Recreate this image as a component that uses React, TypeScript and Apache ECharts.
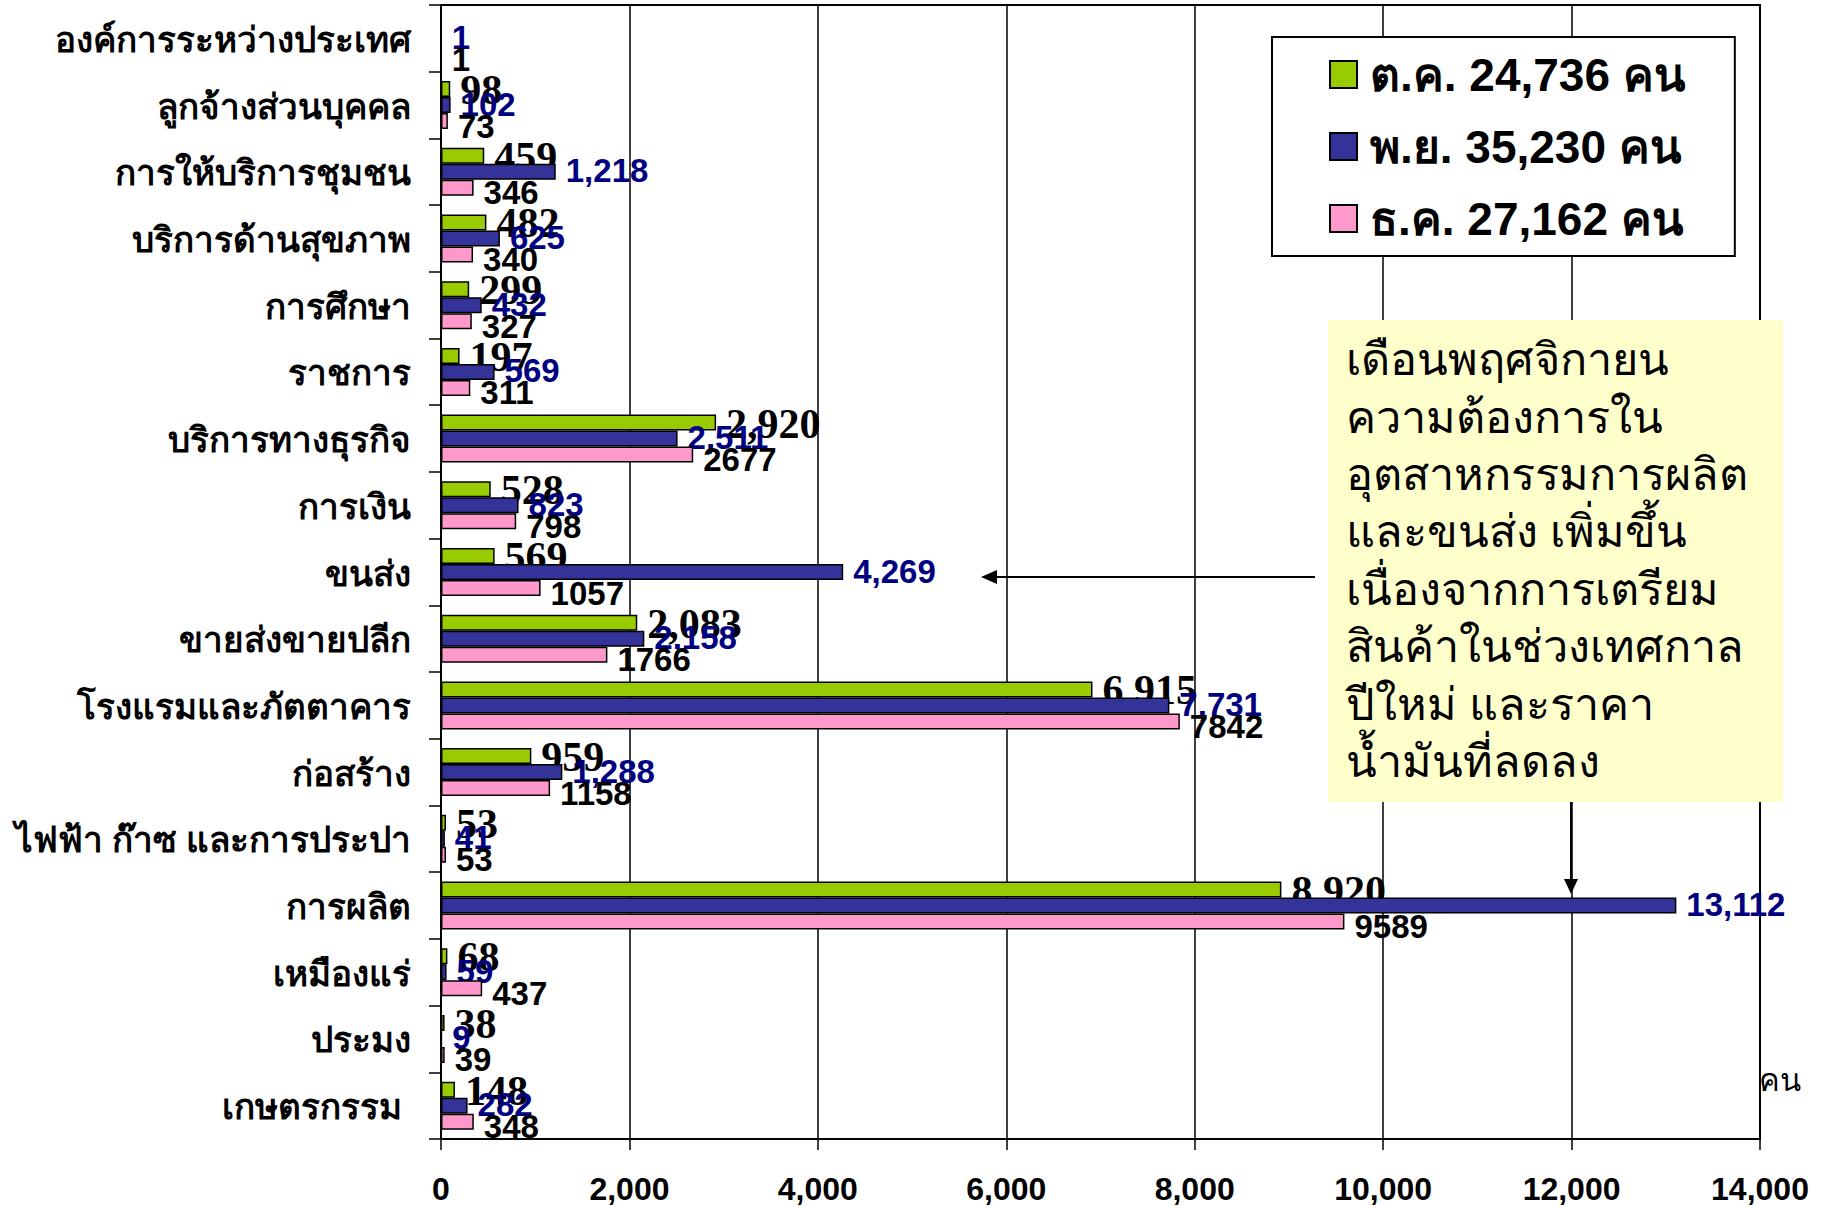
import React, { useEffect, useRef } from "react";
import * as echarts from "echarts";

const categories = [
  "องค์การระหว่างประเทศ",
  "ลูกจ้างส่วนบุคคล",
  "การให้บริการชุมชน",
  "บริการด้านสุขภาพ",
  "การศึกษา",
  "ราชการ",
  "บริการทางธุรกิจ",
  "การเงิน",
  "ขนส่ง",
  "ขายส่งขายปลีก",
  "โรงแรมและภัตตาคาร",
  "ก่อสร้าง",
  "ไฟฟ้า ก๊าซ และการประปา",
  "การผลิต",
  "เหมืองแร่",
  "ประมง",
  "เกษตรกรรม ",
];

const octValues = [0, 98, 459, 482, 299, 197, 2920, 528, 569, 2083, 6915, 959, 53, 8920, 68, 38, 148];
const novValues = [1, 102, 1218, 625, 432, 569, 2511, 823, 4269, 2158, 7731, 1288, 41, 13112, 59, 9, 282];
const decValues = [1, 73, 346, 340, 327, 311, 2677, 798, 1057, 1766, 7842, 1158, 53, 9589, 437, 39, 348];

const seriesNames = ["ต.ค. 24,736 คน", "พ.ย. 35,230 คน", "ธ.ค. 27,162 คน"];
const seriesColors = ["#99CC00", "#333399", "#FF99CC"];

const xTicks = { min: 0, max: 14000, interval: 2000 };

const noteText = [
  "เดือนพฤศจิกายน",
  "ความต้องการใน",
  "อุตสาหกรรมการผลิต",
  "และขนส่ง เพิ่มขึ้น",
  "เนื่องจากการเตรียม",
  "สินค้าในช่วงเทศกาล",
  "ปีใหม่ และราคา",
  "น้ำมันที่ลดลง",
];

const unitLabel = "คน";

const fmtComma = (v: number) => v.toLocaleString("en-US");

export default function App() {
  const ref = useRef<HTMLDivElement>(null);

  useEffect(() => {
    if (!ref.current) return;
    const chart = echarts.init(ref.current, null, { renderer: "svg" });

    const sans = "'Liberation Sans', Arial, sans-serif";
    const serif = "'Liberation Serif', 'Times New Roman', serif";
    const thai = "'Noto Sans', 'DejaVu Sans', sans-serif";

    const labelCfg = [
      {
        fontFamily: serif,
        fontSize: 42,
        color: "#000",
        offset: [0, 1],
        fmt: (v: number) => (v === 0 ? "" : fmtComma(v)),
      },
      {
        fontFamily: sans,
        fontSize: 33,
        color: "#000080",
        offset: [0, -1],
        fmt: (v: number) => (v === 0 ? "" : fmtComma(v)),
      },
      {
        fontFamily: sans,
        fontSize: 33,
        color: "#000",
        offset: [0, 5],
        fmt: (v: number) => (v === 0 ? "" : String(v)),
      },
    ];

    const dataSets = [octValues, novValues, decValues];

    const series = dataSets.map((vals, i) => ({
      name: seriesNames[i],
      type: "bar",
      data: vals,
      barWidth: 16,
      barGap: "0%",
      itemStyle: {
        color: seriesColors[i],
        borderColor: "#000",
        borderWidth: 1.5,
      },
      label: {
        show: true,
        position: "right",
        distance: 10,
        offset: labelCfg[i].offset,
        fontFamily: labelCfg[i].fontFamily,
        fontSize: labelCfg[i].fontSize,
        fontWeight: "bold",
        color: labelCfg[i].color,
        formatter: (p: any) => labelCfg[i].fmt(p.value),
      },
      z: 2 + i,
    }));

    const boxX = 1328, boxY = 320, boxW = 455, boxH = 482;

    chart.setOption({
      animation: false,
      backgroundColor: "#fff",
      grid: {
        left: 441,
        right: 65,
        top: 5,
        bottom: 67,
        show: true,
        borderColor: "#000",
        borderWidth: 2,
      },
      legend: {
        orient: "vertical",
        left: 1272,
        top: 37,
        backgroundColor: "#fff",
        borderColor: "#000",
        borderWidth: 2,
        padding: [13, 50, 13, 57],
        itemWidth: 27,
        itemHeight: 27,
        itemGap: 23,
        icon: "rect",
        selectedMode: false,
        textStyle: {
          fontFamily: sans,
          fontSize: 46,
          fontWeight: "bold",
          color: "#000",
          lineHeight: 49,
          padding: [0, 0, 0, 8],
        },
        data: seriesNames,
      },
      xAxis: {
        type: "value",
        min: xTicks.min,
        max: xTicks.max,
        interval: xTicks.interval,
        axisLine: { show: true, lineStyle: { color: "#000", width: 2 } },
        axisTick: { show: true, length: 11, lineStyle: { color: "#000", width: 1.5 } },
        splitLine: { show: true, lineStyle: { color: "#000", width: 1.5 } },
        axisLabel: {
          fontFamily: sans,
          fontSize: 32,
          fontWeight: "bold",
          color: "#000",
          margin: 34,
          lineHeight: 32,
          formatter: (v: number) => fmtComma(v),
        },
      },
      yAxis: {
        type: "category",
        inverse: true,
        data: categories,
        axisLine: { show: true, lineStyle: { color: "#000", width: 2 } },
        axisTick: { show: true, length: 12, interval: 0, lineStyle: { color: "#000", width: 1.5 } },
        axisLabel: {
          interval: 0,
          fontFamily: thai,
          fontSize: 35,
          fontWeight: "bold",
          color: "#000",
          margin: 30,
        },
      },
      series,
      graphic: [
        {
          type: "rect",
          shape: { x: boxX, y: boxY, width: boxW, height: boxH },
          style: { fill: "#FFFFCC", stroke: null },
          z: 100,
        },
        {
          type: "text",
          x: 1346,
          y: 329,
          style: {
            text: noteText.join("\n"),
            fontFamily: thai,
            fontSize: 45,
            lineHeight: 57.4,
            fill: "#000",
          },
          z: 101,
        },
        {
          type: "line",
          shape: { x1: 1315, y1: 577, x2: 990, y2: 577 },
          style: { stroke: "#000", lineWidth: 2 },
          z: 101,
        },
        {
          type: "polygon",
          shape: { points: [[981, 577], [997, 570], [997, 584]] },
          style: { fill: "#000" },
          z: 101,
        },
        {
          type: "line",
          shape: { x1: 1571, y1: 802, x2: 1571, y2: 885 },
          style: { stroke: "#000", lineWidth: 2 },
          z: 101,
        },
        {
          type: "polygon",
          shape: { points: [[1571, 894], [1564, 879], [1578, 879]] },
          style: { fill: "#000" },
          z: 101,
        },
        {
          type: "text",
          x: 1759,
          y: 1079,
          style: {
            text: unitLabel,
            fontFamily: thai,
            fontSize: 31,
            fill: "#000",
            verticalAlign: "middle",
          },
          z: 101,
        },
      ],
    });

    return () => chart.dispose();
  }, []);

  return (
    <div
      ref={ref}
      style={{ position: "fixed", left: 0, top: 0, width: 1825, height: 1206 }}
    />
  );
}
